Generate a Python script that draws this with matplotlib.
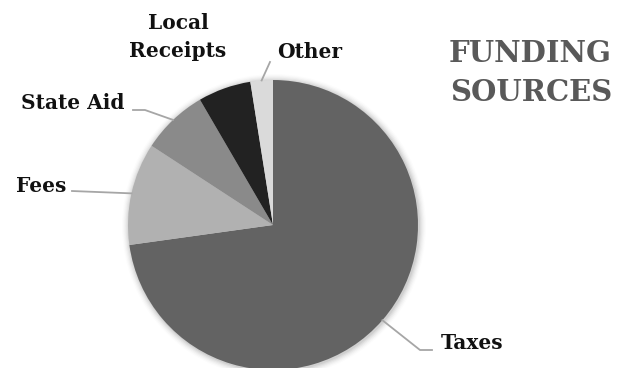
import matplotlib.pyplot as plt
import numpy as np
from matplotlib.patches import Circle

# data
labels = ["Taxes", "Fees", "State Aid", "Local\nReceipts", "Other"]
shares = [72.8, 11.4, 7.4, 5.9, 2.5]
colors = ["#636363", "#b1b1b1", "#8a8a8a", "#222222", "#dadada"]

W, H = 620, 368
fig = plt.figure(figsize=(W / 100, H / 100), dpi=100)
ax = fig.add_axes([0, 0, 1, 1])

cx, cy, r = 273, H - 225, 145

# soft shadow around the pie
for i, a in enumerate(np.linspace(0.05, 0.01, 6)):
    ax.add_patch(Circle((cx + 1, cy - 1), r + 1 + i * 1.2, color="black",
                        alpha=a, lw=0, zorder=0))

wedges, _ = ax.pie(shares, colors=colors, startangle=90, counterclock=False,
                   center=(cx, cy), radius=r, frame=True,
                   wedgeprops=dict(linewidth=0))
ax.set_xlim(0, W)
ax.set_ylim(0, H)
ax.set_aspect("equal")
ax.axis("off")

font = dict(family="DejaVu Serif", fontweight="bold", fontsize=14.5,
            color="#111111")
lc = "#a6a6a6"

# label text centres (pixels from top-left)
place = {
    "Taxes": (472, 343),
    "Fees": (41, 186),
    "State Aid": (73, 103),
    "Local\nReceipts": (178, 37),
    "Other": (310, 52),
}

for w, lab in zip(wedges, labels):
    mid = np.deg2rad((w.theta1 + w.theta2) / 2)
    ex, ey = cx + r * np.cos(mid), cy + r * np.sin(mid)
    tx, ty = place[lab]
    ax.text(tx, H - ty, lab, ha="center", va="center", linespacing=1.5, **font)
    if lab == "Taxes":
        ax.plot([ex, 420, 432], [ey, H - 350, H - 350], color=lc, lw=1.3)
    elif lab == "State Aid":
        ax.plot([133, 145, ex], [H - 110, H - 110, ey], color=lc, lw=1.3)
    elif lab == "Fees":
        ax.plot([72, ex], [H - 191, ey], color=lc, lw=1.3)
    elif lab == "Other":
        ax.plot([ex, 270], [ey, H - 62], color=lc, lw=1.3)

ax.text(612, H - 73, "FUNDING\nSOURCES", ha="right", va="center",
        family="DejaVu Serif", fontweight="bold", fontsize=21,
        color="#595959", linespacing=1.45)

fig.savefig("out.png", dpi=100)
